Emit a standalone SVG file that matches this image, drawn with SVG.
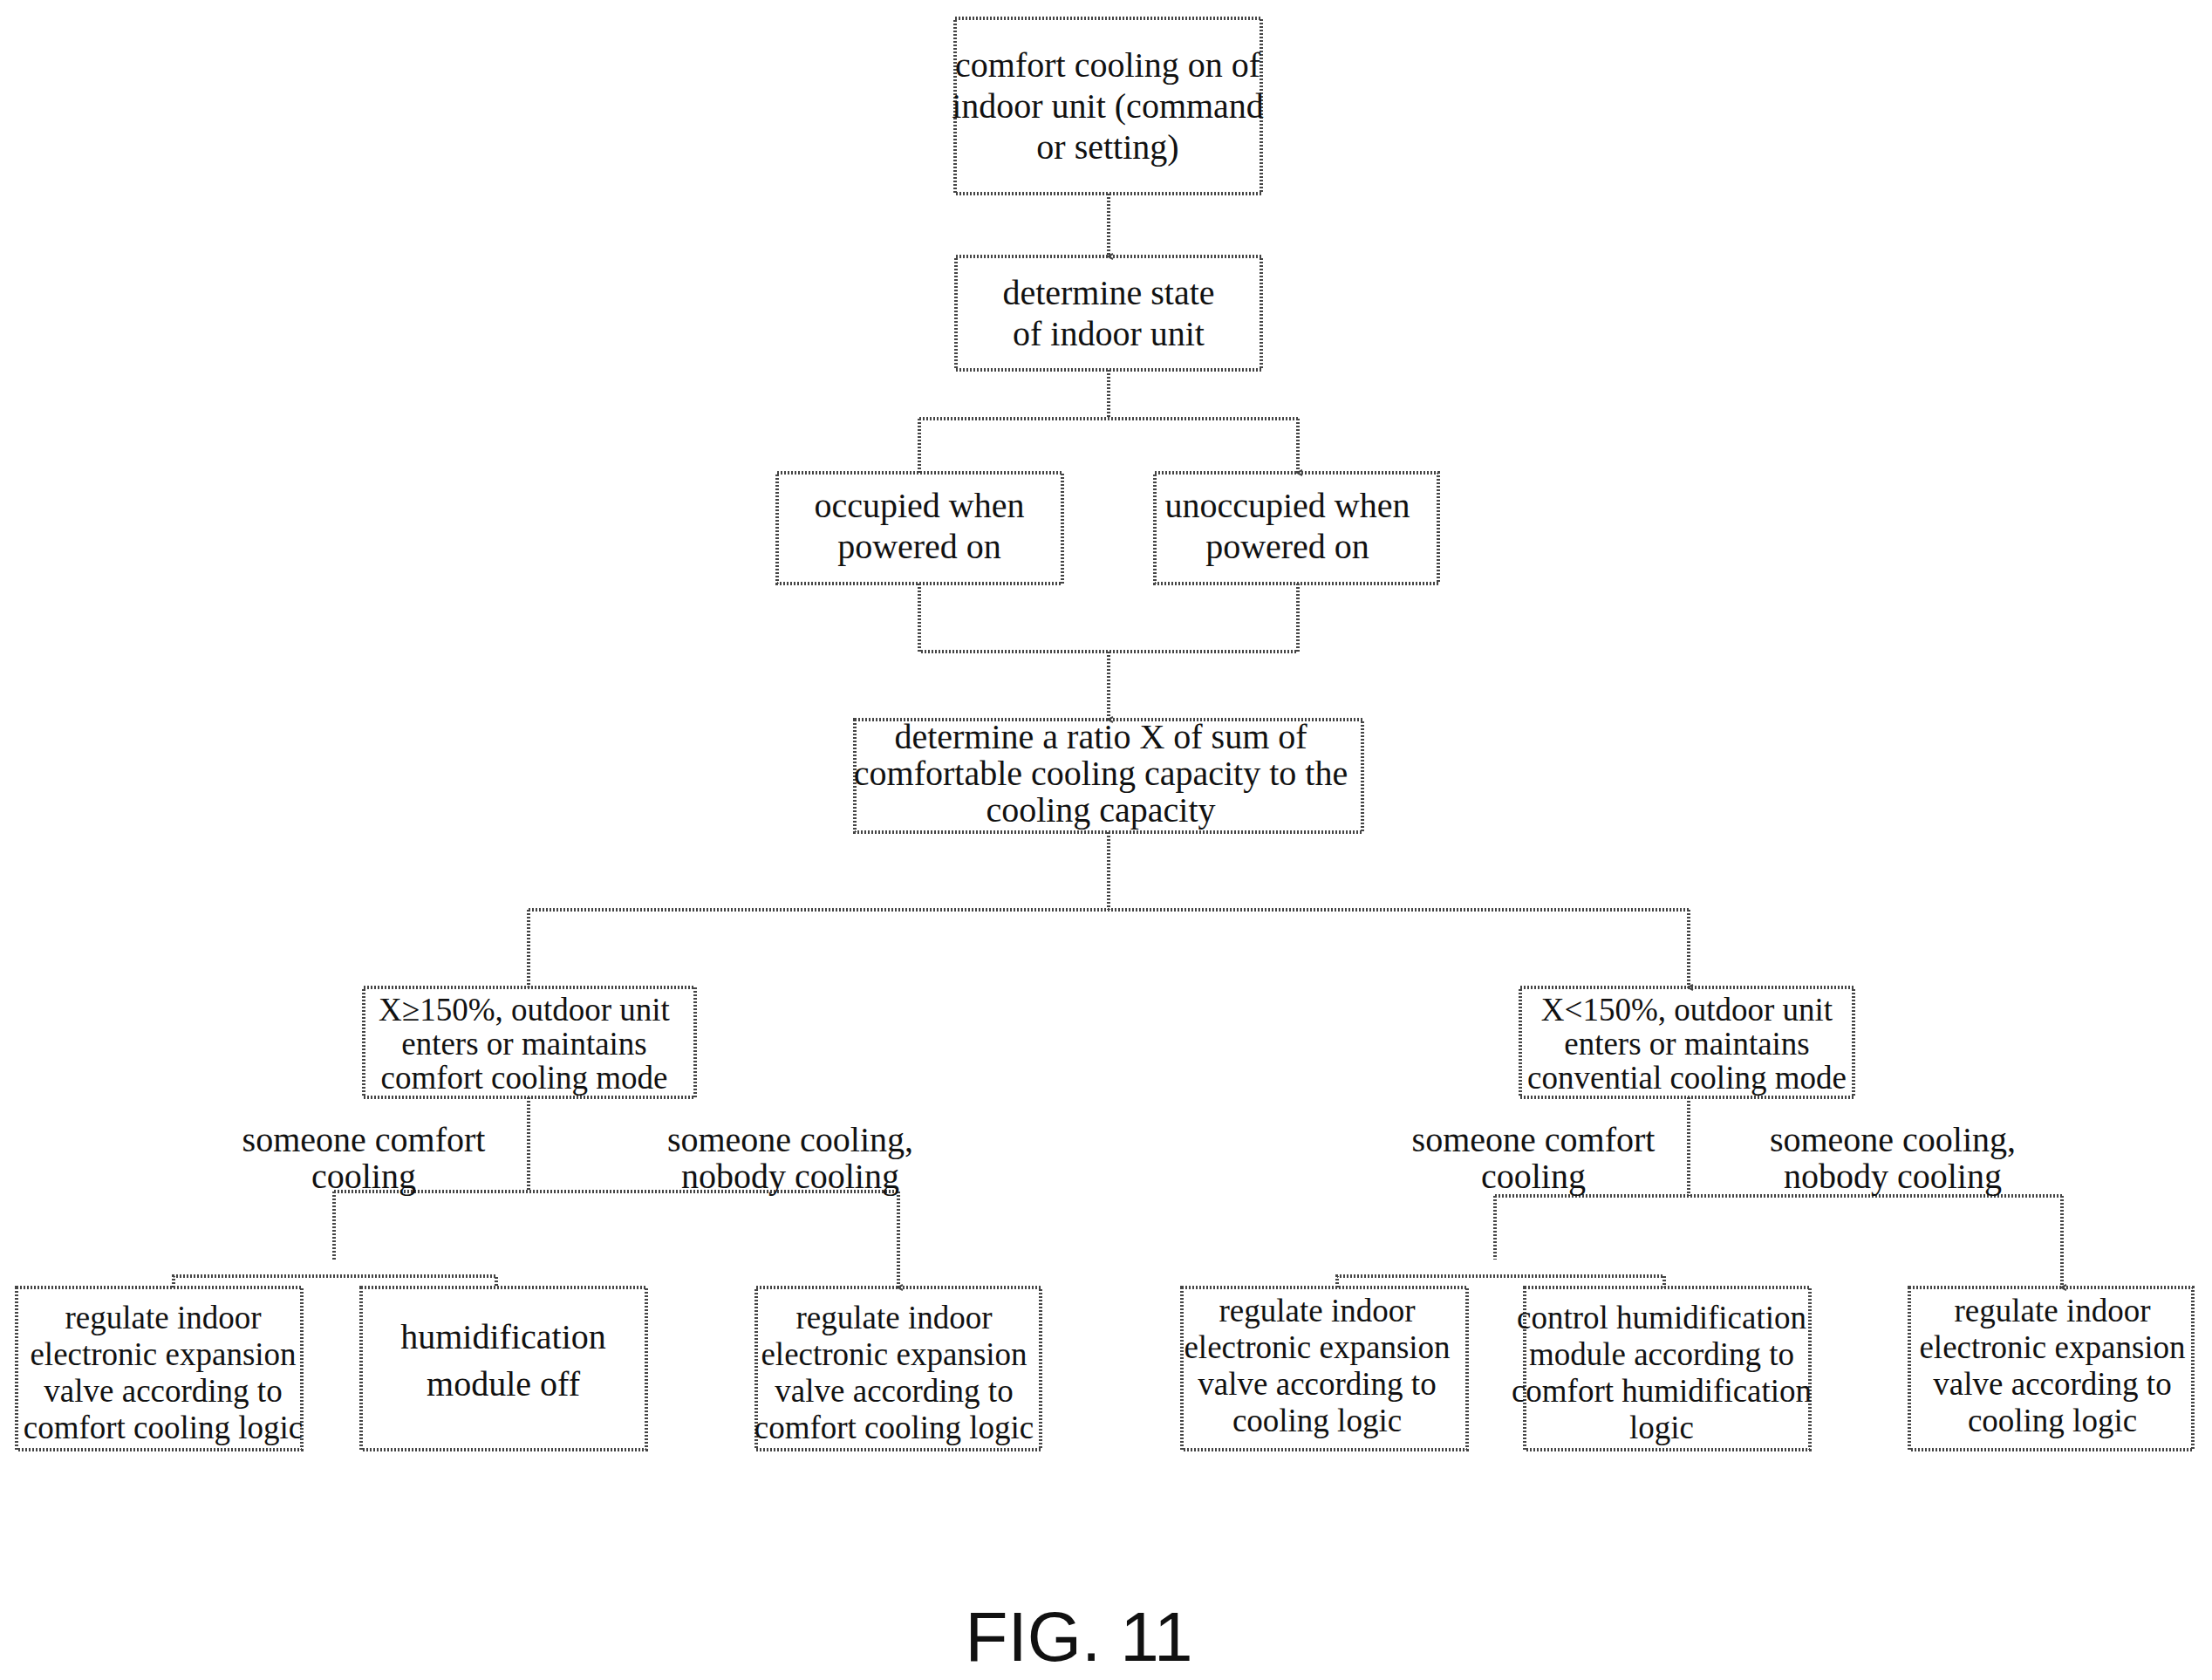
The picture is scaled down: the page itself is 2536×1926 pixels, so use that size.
<svg xmlns="http://www.w3.org/2000/svg" width="2536" height="1926" viewBox="0 0 2536 1926">
<style>
rect{fill:none;stroke:#444;stroke-width:4;stroke-dasharray:2 2}
.c path{fill:none;stroke:#444;stroke-width:4;stroke-dasharray:2 2}
text{font-family:"Liberation Serif",serif;fill:#111;text-anchor:middle}
.t{font-size:40px}.s{font-size:37px}.l{font-size:40px}
</style>
<defs><marker id="a" markerWidth="8" markerHeight="8" refX="4" refY="6" orient="auto" markerUnits="userSpaceOnUse"><path d="M1,1 L4,7 L7,1" fill="none" stroke="#444" stroke-width="2"/></marker></defs>
<rect x="0" y="0" width="2536" height="1926" style="fill:#fff;stroke:none"/>
<g class="c">
<path d="M1271,222 V294" marker-end="url(#a)"/>
<path d="M1271,424 V480 M1054,480 H1488 M1054,480 V542 M1488,480 V542" marker-end="url(#a)"/>
<path d="M1054,669 V747 H1488 V669 M1271,747 V825" marker-end="url(#a)"/>
<path d="M1271,954 V1043 M606,1043 H1936 M606,1043 V1132 M1936,1043 V1132" marker-end="url(#a)"/>
<path d="M606,1258 V1366 M383,1366 H1030 M383,1366 V1444 M1030,1366 V1476" marker-end="url(#a)"/>
<path d="M199,1476 V1463 H569 V1476"/>
<path d="M1936,1258 V1371 M1714,1371 H2364 M1714,1371 V1444 M2364,1371 V1476" marker-end="url(#a)"/>
<path d="M1533,1476 V1463 H1908 V1476"/>
</g>
<g id="n1"><rect x="1095" y="21" width="351" height="201"/><text class="t" x="1270" y="88">comfort cooling on of</text><text class="t" x="1270" y="135">indoor unit (command</text><text class="t" x="1270" y="182">or setting)</text></g>
<g id="n2"><rect x="1096" y="294" width="350" height="130"/><text class="t" x="1271" y="349">determine state</text><text class="t" x="1271" y="396">of indoor unit</text></g>
<g id="n3"><rect x="891" y="542" width="327" height="127"/><text class="t" x="1054" y="593">occupied when</text><text class="t" x="1054" y="640">powered on</text></g>
<g id="n4"><rect x="1324" y="542" width="325" height="127"/><text class="t" x="1476" y="593">unoccupied when</text><text class="t" x="1476" y="640">powered on</text></g>
<g id="n5"><rect x="980" y="825" width="582" height="129"/><text class="t" x="1262" y="858">determine a ratio X of sum of</text><text class="t" x="1262" y="900">comfortable cooling capacity to the</text><text class="t" x="1262" y="942">cooling capacity</text></g>
<g id="n6"><rect x="417" y="1132" width="380" height="126"/><text class="s" x="601" y="1170">X≥150%, outdoor unit</text><text class="s" x="601" y="1209">enters or maintains</text><text class="s" x="601" y="1248">comfort cooling mode</text></g>
<g id="n7"><rect x="1743" y="1132" width="382" height="126"/><text class="s" x="1934" y="1170">X&lt;150%, outdoor unit</text><text class="s" x="1934" y="1209">enters or maintains</text><text class="s" x="1934" y="1248">convential cooling mode</text></g>
<g id="labels">
<text class="l" x="417" y="1320">someone comfort</text><text class="l" x="417" y="1362">cooling</text>
<text class="l" x="906" y="1320">someone cooling,</text><text class="l" x="906" y="1362">nobody cooling</text>
<text class="l" x="1758" y="1320">someone comfort</text><text class="l" x="1758" y="1362">cooling</text>
<text class="l" x="2170" y="1320">someone cooling,</text><text class="l" x="2170" y="1362">nobody cooling</text>
</g>
<g id="b1"><rect x="19" y="1476" width="327" height="186"/><text class="s" x="187" y="1523">regulate indoor</text><text class="s" x="187" y="1565">electronic expansion</text><text class="s" x="187" y="1607">valve according to</text><text class="s" x="187" y="1649">comfort cooling logic</text></g>
<g id="b2"><rect x="414" y="1476" width="327" height="186"/><text class="t" x="577" y="1546">humidification</text><text class="t" x="577" y="1600">module off</text></g>
<g id="b3"><rect x="867" y="1476" width="326" height="186"/><text class="s" x="1025" y="1523">regulate indoor</text><text class="s" x="1025" y="1565">electronic expansion</text><text class="s" x="1025" y="1607">valve according to</text><text class="s" x="1025" y="1649">comfort cooling logic</text></g>
<g id="b4"><rect x="1355" y="1476" width="327" height="186"/><text class="s" x="1510" y="1515">regulate indoor</text><text class="s" x="1510" y="1557">electronic expansion</text><text class="s" x="1510" y="1599">valve according to</text><text class="s" x="1510" y="1641">cooling logic</text></g>
<g id="b5"><rect x="1748" y="1476" width="327" height="186"/><text class="s" x="1905" y="1523">control humidification</text><text class="s" x="1905" y="1565">module according to</text><text class="s" x="1905" y="1607">comfort humidification</text><text class="s" x="1905" y="1649">logic</text></g>
<g id="b6"><rect x="2189" y="1476" width="325" height="186"/><text class="s" x="2353" y="1515">regulate indoor</text><text class="s" x="2353" y="1557">electronic expansion</text><text class="s" x="2353" y="1599">valve according to</text><text class="s" x="2353" y="1641">cooling logic</text></g>
<text x="1237" y="1904" style="font-family:'Liberation Sans',sans-serif;font-size:80px">FIG. 11</text>
</svg>
